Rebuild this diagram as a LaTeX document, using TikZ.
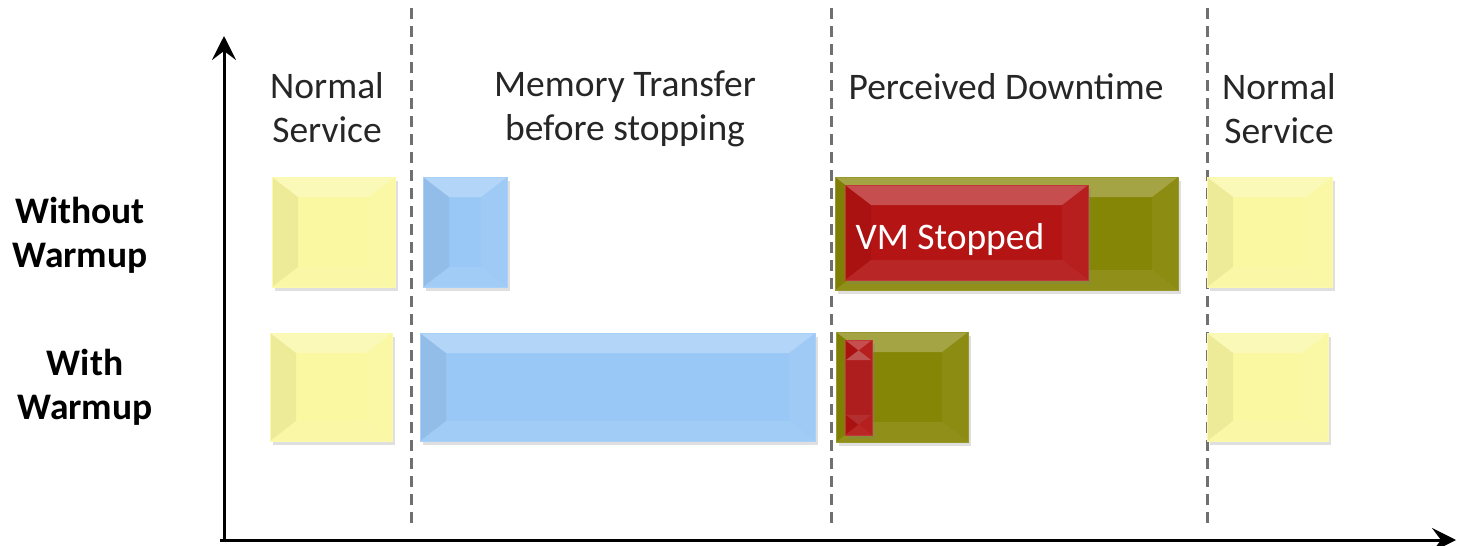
\documentclass[tikz,border=0pt]{standalone}
\usepackage{fontspec}
\setmainfont{Carlito}
\usetikzlibrary{arrows.meta, positioning, shadows}
\definecolor{serviceyellow}{RGB}{250,248,160}
\definecolor{transferblue}{RGB}{154,200,246}
\definecolor{downolive}{RGB}{134,134,6}
\definecolor{stopred}{RGB}{180,20,20}
\definecolor{guidegray}{RGB}{112,112,112}
\tikzset{
    timeline/.style={x=1pt, y=-1pt, >={Stealth[length=24pt, width=24pt, inset=9pt]},
        font=\fontsize{37.5}{44}\selectfont},
    axis/.style={line width=3pt, ->},
    guide/.style={line width=3pt, guidegray, dash pattern=on 11pt off 7pt},
    phase/.style={align=center, text=black!85},
    rowlabel/.style={align=center, font=\fontsize{37.5}{44}\selectfont\bfseries},
    % bevelled bar: fill colour as argument
    bar/.style={anchor=north west, inner sep=0pt, outer sep=0pt, fill=#1,
        draw=#1!85!white, line width=1pt,
        drop shadow={shadow xshift=3pt, shadow yshift=-4pt, opacity=.25},
        path picture={
            \fill[white, opacity=.25] (path picture bounding box.north west)
                -- (path picture bounding box.north east)
                -- ([xshift=-26pt, yshift=-20pt]path picture bounding box.north east)
                -- ([xshift=26pt, yshift=-20pt]path picture bounding box.north west) -- cycle;
            \fill[white, opacity=.08] (path picture bounding box.south west)
                -- (path picture bounding box.south east)
                -- ([xshift=-26pt, yshift=20pt]path picture bounding box.south east)
                -- ([xshift=26pt, yshift=20pt]path picture bounding box.south west) -- cycle;
            \fill[black, opacity=.05] (path picture bounding box.north west)
                -- ([xshift=26pt, yshift=-20pt]path picture bounding box.north west)
                -- ([xshift=26pt, yshift=20pt]path picture bounding box.south west)
                -- (path picture bounding box.south west) -- cycle;
            \fill[white, opacity=.05] (path picture bounding box.north east)
                -- ([xshift=-26pt, yshift=-20pt]path picture bounding box.north east)
                -- ([xshift=-26pt, yshift=20pt]path picture bounding box.south east)
                -- (path picture bounding box.south east) -- cycle;
        }},
}

\begin{document}
\begin{tikzpicture}[timeline]
    \useasboundingbox (0,0) rectangle (1457,546);

    % axes
    \coordinate (origin) at (224,540);
    \coordinate (ytop)   at (224,36);
    \coordinate (xleft)  at (220,540);
    \coordinate (xend)   at (1456,540);
    \draw[axis] (origin) -- (ytop);
    \draw[axis] (xleft) -- (xend);

    % phase boundaries
    \foreach \gx/\gname in {411/first, 831/second, 1207/third} {
        \coordinate (\gname top) at (\gx,8);
        \coordinate (\gname bot) at (\gx,530);
        \draw[guide] (\gname top) -- (\gname bot);
    }

    % phase titles
    \node[phase] (normalA)  at (327,108)  {Normal\\Service};
    \node[phase] (transfer) at (625,109)  {Memory Transfer\\before stopping};
    \node[phase] (downtime) at (1006,87)  {Perceived Downtime};
    \node[phase] (normalB)  at (1279,109) {Normal\\Service};

    % row titles
    \node[rowlabel] (nowarm) at (80,235)  {Without\\Warmup};
    \node[rowlabel] (warm)   at (85,387)  {With\\Warmup};

    % without warmup
    \node[bar=serviceyellow, minimum width=123pt, minimum height=110pt] (svcA1) at (272,177) {};
    \node[bar=transferblue,  minimum width=84pt,  minimum height=110pt] (memA)  at (423,177) {};
    \node[bar=downolive,     minimum width=343pt, minimum height=113pt] (downA) at (835,177) {};
    \node[bar=stopred,       minimum width=243pt, minimum height=95pt]  (stopA) at (845,185) {};
    \node[anchor=west, text=white] (stoptext) at (852,239) {VM Stopped};
    \node[bar=serviceyellow, minimum width=125pt, minimum height=110pt] (svcA2) at (1207,177) {};

    % with warmup
    \node[bar=serviceyellow, minimum width=122pt, minimum height=108pt] (svcB1) at (270,333) {};
    \node[bar=transferblue,  minimum width=395pt, minimum height=108pt] (memB)  at (420,333) {};
    \node[bar=downolive,     minimum width=132pt, minimum height=110pt] (downB) at (836,332) {};
    \node[bar=stopred,       minimum width=27pt,  minimum height=95pt]  (stopB) at (845,340) {};
    \node[bar=serviceyellow, minimum width=121pt, minimum height=108pt] (svcB2) at (1207,333) {};
\end{tikzpicture}
\end{document}
